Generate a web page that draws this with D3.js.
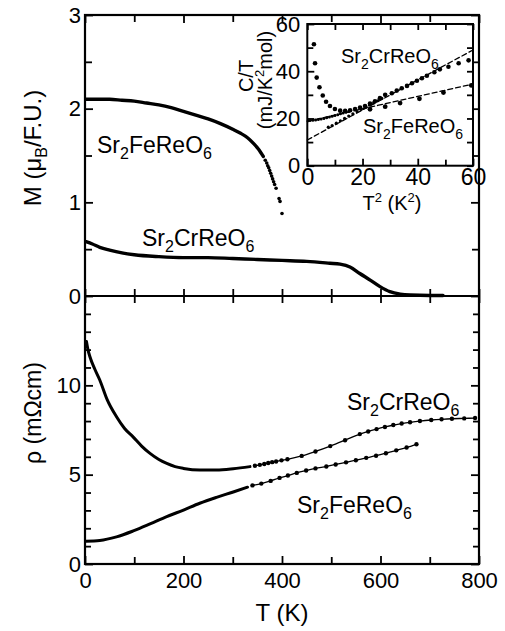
<!DOCTYPE html>
<html>
<head>
<meta charset="utf-8">
<script src="https://cdn.jsdelivr.net/npm/d3@7"></script>
<style>
  body { margin: 0; background: #fff; }
  text { font-family: "Liberation Sans", Arial, Helvetica, sans-serif; fill: #000; }
</style>
</head>
<body>
<svg id="fig" width="505" height="631"></svg>
<script>
// ---- Magnetization M (muB / f.u.) vs T (K) ----
const feMagCurve = [[2,2.10],[25,2.10],[50,2.10],[75,2.09],[100,2.08],[125,2.06],[150,2.04],[175,2.01],
  [200,1.97],[225,1.93],[250,1.89],[275,1.84],[300,1.78],[315,1.74],[330,1.69],[342,1.63],[352,1.57],[362,1.49]];
const feMagDots = [[366,1.45],[369,1.42],[371,1.39],[373,1.37],[375,1.34],[377,1.31],[379,1.28],[381,1.25],
  [383,1.22],[385,1.19],[388,1.15],[394,1.04],[396,1.01],[400,0.88]];
const crMagCurve = [[2,0.58],[15,0.555],[30,0.52],[50,0.49],[75,0.46],[100,0.44],[150,0.42],[200,0.41],
  [250,0.41],[300,0.40],[350,0.39],[400,0.38],[450,0.37],[497,0.35],[518,0.34],[538,0.31],[558,0.24],
  [579,0.17],[599,0.10],[619,0.046],[640,0.02],[660,0.01],[700,0.005],[727,0.005]];

// ---- Resistivity rho (mOhm cm) vs T (K) ----
const crRhoCurve = [[3,12.45],[6,12.0],[10,11.6],[20,10.9],[30,10.3],[45,9.2],[64,8.24],[80,7.6],[98,7.1],
  [115,6.6],[132,6.19],[150,5.85],[166,5.63],[183,5.45],[200,5.35],[233,5.26],[267,5.26],[301,5.33],[335,5.45]];
const crRhoDots = [[345,5.5],[355,5.55],[364,5.6],[372,5.65],[380,5.7],[388,5.74],[399,5.8],[411,5.86],
  [440,6.05],[468,6.3],[498,6.6],[528,6.93],[558,7.27],[575,7.42],[592,7.55],[609,7.67],[626,7.78],
  [643,7.86],[660,7.93],[680,8.0],[703,8.06],[724,8.1],[745,8.13],[770,8.15],[792,8.17]];
const feRhoCurve = [[2,1.28],[30,1.32],[64,1.52],[98,1.85],[132,2.24],[166,2.65],[200,3.02],[233,3.4],
  [267,3.73],[301,4.03],[330,4.3]];
const feRhoDots = [[340,4.4],[358,4.5],[377,4.65],[395,4.82],[412,4.95],[430,5.1],[449,5.23],[468,5.35],
  [490,5.46],[509,5.57],[530,5.69],[550,5.81],[571,5.94],[591,6.06],[611,6.2],[632,6.36],[653,6.52],[673,6.7]];

// ---- Inset: C/T (mJ/K^2 mol) vs T^2 (K^2) ----
const crHeatLow = [[2.4,51.4],[2.8,43.4],[3.4,37.3],[4.4,33.2],[5.6,29.7],[6.8,27.1],[8.2,25.3],[10.0,24.0],
  [11.9,23.3],[13.7,23.2],[15.5,23.5],[17.3,24.0],[19.1,24.6],[20.9,25.3],[22.7,26.3],[24.5,27.3],[26.3,28.6]];
const crHeatHigh = [[28.2,30.0],[30.6,30.7],[32.4,31.8],[34.2,32.8],[36.1,33.8],[37.9,34.9],[39.7,36.0],
  [41.5,37.0],[43.3,38.1],[46.0,39.6],[48.0,40.8],[51.1,41.9],[54.8,43.4],[58.4,44.6]];
const crHeatFine = [[7.6,16.3],[9,17.0],[10.5,18.0],[12,19.0],[13.5,20.0],[15,21.0],[16.5,22.0],[18,22.9],
  [19.5,23.8],[21,24.8],[22.5,25.7],[24,26.6],[25.5,27.5],[27,28.5]];
const feHeatFine = [[0.3,19.0],[1,19.1],[2,19.2],[3,19.4],[4,19.6],[5,19.8],[6,20.0],[7,20.3],[8,20.6],
  [9,20.9],[10,21.3],[11,21.6],[12,22.0],[13,22.3],[14,22.6],[15,23.0]];
const feHeatDots = [[22.7,23.9],[28.2,25.0],[33.6,26.5],[40.6,28.3],[49.3,31.0],[59.4,34.0]];
const crHeatFit = [[0,10.9],[60,49.0]];
const feHeatFit = [[0,18.8],[60,34.6]];

// ---- Tick values ----
const tTicks = [0,200,400,600,800];
const tMinor = [100,300,500,700];
const mTicks = [0,1,2,3];
const mMinor = [0.5,1.5,2.5];
const rhoTicks = [0,5,10];
const rhoMinor = [1,2,3,4,6,7,8,9,11,12,13,14];
const t2Ticks = [0,20,40,60];
const t2Minor = [10,30,50];
const cTicks = [0,20,40,60];
const cMinor = [10,30,50];

const svg = d3.select("#fig");
const FONT = 22;
const intFmt = d3.format("d");

// scales
const xT = d3.scaleLinear().domain([0, 800]).range([85, 479]);
const yM = d3.scaleLinear().domain([0, 3]).range([296, 15]);
const yR = d3.scaleLinear().domain([0, 15]).range([564, 296]);
const xI = d3.scaleLinear().domain([0, 60]).range([307.3, 473]);
const yI = d3.scaleLinear().domain([0, 60]).range([165.7, 24]);

// generic axis drawer: inward ticks, optional labels
function axis(gen, scale, values, size, pos, labels, pad, fs) {
  const a = gen(scale).tickValues(values).tickSize(-size).tickPadding(pad || 4)
    .tickFormat(labels ? intFmt : "");
  const g = svg.append("g").attr("transform", pos).call(a);
  g.select(".domain").remove();
  g.selectAll("line").attr("stroke", "#000").attr("stroke-width", 1.8);
  g.selectAll("text").attr("font-size", fs || FONT).attr("fill", "#000")
    .style("font-family", '"Liberation Sans", Arial, sans-serif');
  return g;
}

// ---- main frame ticks ----
// T axis: bottom, top, and both sides of the panel divider
axis(d3.axisBottom, xT, tTicks, 8, "translate(0,564)", true, 8);
axis(d3.axisBottom, xT, tMinor, 7, "translate(0,564)", false);
axis(d3.axisTop, xT, tTicks, 8, "translate(0,15)", false);
axis(d3.axisTop, xT, tMinor, 7, "translate(0,15)", false);
axis(d3.axisBottom, xT, tTicks, 7, "translate(0,296)", false);
axis(d3.axisBottom, xT, tMinor, 7, "translate(0,296)", false);
axis(d3.axisTop, xT, tTicks, 7, "translate(0,296)", false);
axis(d3.axisTop, xT, tMinor, 7, "translate(0,296)", false);
// M axis
axis(d3.axisLeft, yM, mTicks, 8, "translate(85,0)", true, 4);
axis(d3.axisLeft, yM, mMinor, 7, "translate(85,0)", false);
axis(d3.axisRight, yM, mTicks, 8, "translate(479,0)", false);
axis(d3.axisRight, yM, mMinor, 7, "translate(479,0)", false);
// rho axis
axis(d3.axisLeft, yR, rhoTicks, 8, "translate(85,0)", true, 4);
axis(d3.axisLeft, yR, rhoMinor, 6, "translate(85,0)", false);
axis(d3.axisRight, yR, rhoTicks, 8, "translate(479,0)", false);
axis(d3.axisRight, yR, rhoMinor, 6, "translate(479,0)", false);

// frame and divider
svg.append("rect").attr("x", xT(0)).attr("y", yM(3)).attr("width", xT(800) - xT(0))
  .attr("height", yR(0) - yM(3)).attr("fill", "none").attr("stroke", "#000").attr("stroke-width", 2.2);
svg.append("line").attr("x1", xT(0)).attr("x2", xT(800)).attr("y1", yM(0)).attr("y2", yM(0))
  .attr("stroke", "#000").attr("stroke-width", 2.2);

// ---- curves ----
const smooth = (sx, sy) => d3.line().x(d => sx(d[0])).y(d => sy(d[1])).curve(d3.curveMonotoneX);
const straight = (sx, sy) => d3.line().x(d => sx(d[0])).y(d => sy(d[1]));

function path(data, gen, w, dash) {
  svg.append("path").attr("d", gen(data)).attr("fill", "none").attr("stroke", "#000")
    .attr("stroke-width", w).attr("stroke-linejoin", "round").attr("stroke-linecap", "round")
    .attr("stroke-dasharray", dash || null);
}
function dots(data, sx, sy, r) {
  svg.append("g").selectAll("circle").data(data).join("circle")
    .attr("cx", d => sx(d[0])).attr("cy", d => sy(d[1])).attr("r", r).attr("fill", "#000");
}

// magnetization
path(feMagCurve, smooth(xT, yM), 3.4);
dots(feMagDots, xT, yM, 1.8);
path(crMagCurve, smooth(xT, yM), 3.4);

// resistivity
path(crRhoCurve, smooth(xT, yR), 3.0);
path(crRhoDots, smooth(xT, yR), 1.3);
dots(crRhoDots, xT, yR, 2.2);
path(feRhoCurve, smooth(xT, yR), 3.0);
path(feRhoDots, smooth(xT, yR), 1.3);
dots(feRhoDots, xT, yR, 2.2);

// ---- inset ----
svg.append("rect").attr("x", xI(0)).attr("y", yI(60)).attr("width", xI(60) - xI(0))
  .attr("height", yI(0) - yI(60)).attr("fill", "#fff").attr("stroke", "#000").attr("stroke-width", 2);

axis(d3.axisBottom, xI, t2Ticks, 7, `translate(0,${yI(0)})`, true, 3, 23);
axis(d3.axisBottom, xI, t2Minor, 6, `translate(0,${yI(0)})`, false);
axis(d3.axisTop, xI, t2Ticks.concat(t2Minor), 6, `translate(0,${yI(60)})`, false);
axis(d3.axisLeft, yI, cTicks, 7, `translate(${xI(0)},0)`, true, 7, 22);
axis(d3.axisLeft, yI, cMinor, 6, `translate(${xI(0)},0)`, false);
axis(d3.axisRight, yI, cTicks.concat(cMinor), 6, `translate(${xI(60)},0)`, false);

path(crHeatFit, straight(xI, yI), 1.3, "5,3");
path(feHeatFit, straight(xI, yI), 1.3, "5,3");
dots(feHeatFine, xI, yI, 1.5);
dots(crHeatFine, xI, yI, 1.6);
dots(crHeatLow, xI, yI, 2.3);
dots(crHeatHigh, xI, yI, 2.3);
dots(feHeatDots, xI, yI, 2.4);

// ---- text ----
function formula(x, y, metal, fs) {
  const t = svg.append("text").attr("x", x).attr("y", y).attr("font-size", fs);
  const sub = Math.round(fs * 0.68);
  const sh = fs * 0.28;
  t.append("tspan").text("Sr");
  t.append("tspan").attr("font-size", sub).attr("dy", sh).text("2");
  t.append("tspan").attr("dy", -sh).text(metal + "ReO");
  t.append("tspan").attr("font-size", sub).attr("dy", sh).text("6");
  return t;
}
formula(97, 153, "Fe", 23);
formula(142, 246, "Cr", 23);
formula(347, 410, "Cr", 23);
formula(297, 513, "Fe", 23);
formula(341, 63, "Cr", 20);
formula(363, 133, "Fe", 20);

// axis titles
const mLab = svg.append("text").attr("transform", "translate(41,148) rotate(-90)")
  .attr("text-anchor", "middle").attr("font-size", 24);
mLab.append("tspan").text("M (\u03bc");
mLab.append("tspan").attr("font-size", 16).attr("dy", 6).text("B");
mLab.append("tspan").attr("dy", -6).text("/F.U.)");

svg.append("text").attr("transform", "translate(41,413) rotate(-90)")
  .attr("text-anchor", "middle").attr("font-size", 23).text("\u03c1 (m\u03a9cm)");

svg.append("text").attr("x", xT(400)).attr("y", 621).attr("text-anchor", "middle")
  .attr("font-size", 24).text("T (K)");

// inset titles
svg.append("text").attr("transform", "translate(253,76) rotate(-90)")
  .attr("text-anchor", "middle").attr("font-size", 20).text("C/T");
const cu = svg.append("text").attr("transform", "translate(272,80) rotate(-90)")
  .attr("text-anchor", "middle").attr("font-size", 20);
cu.append("tspan").text("(mJ/K");
cu.append("tspan").attr("font-size", 13).attr("dy", -8).text("2");
cu.append("tspan").attr("dy", 8).text("mol)");

const tx = svg.append("text").attr("x", 392).attr("y", 210).attr("text-anchor", "middle").attr("font-size", 20);
tx.append("tspan").text("T");
tx.append("tspan").attr("font-size", 13).attr("dy", -8).text("2");
tx.append("tspan").attr("dy", 8).text(" (K");
tx.append("tspan").attr("font-size", 13).attr("dy", -8).text("2");
tx.append("tspan").attr("dy", 8).text(")");
</script>
</body>
</html>
